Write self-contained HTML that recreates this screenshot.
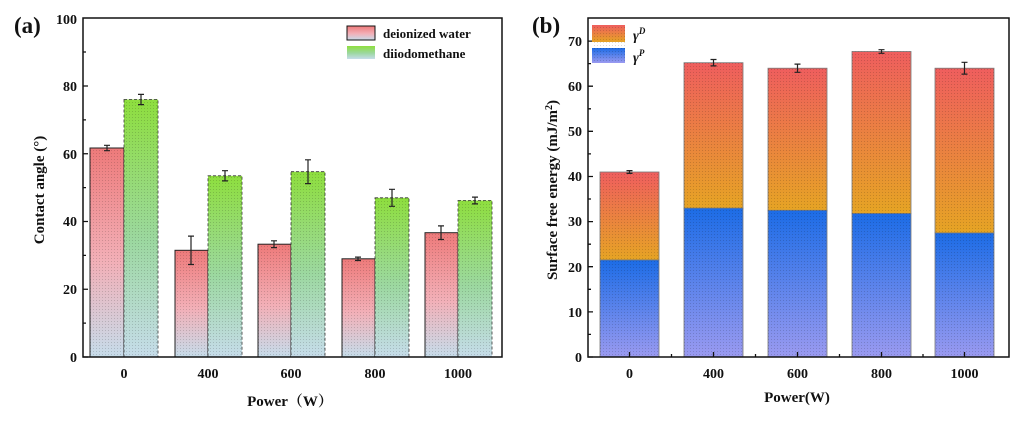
<!DOCTYPE html>
<html><head><meta charset="utf-8"><style>
html,body{margin:0;padding:0;background:#fff;}
svg text{font-family:"Liberation Serif",serif;font-weight:bold;fill:#111;}
</style></head><body>
<svg width="1032" height="416" viewBox="0 0 1032 416" xmlns="http://www.w3.org/2000/svg">
<defs>
<linearGradient id="gr" x1="0" y1="0" x2="0" y2="1"><stop offset="0" stop-color="#ee7a7a"/><stop offset="0.55" stop-color="#f2b0b8"/><stop offset="1" stop-color="#c6dcea"/></linearGradient>
<linearGradient id="gg" x1="0" y1="0" x2="0" y2="1"><stop offset="0" stop-color="#8ede3e"/><stop offset="0.55" stop-color="#9cd8a0"/><stop offset="1" stop-color="#c6dcea"/></linearGradient>
<linearGradient id="gd" x1="0" y1="0" x2="0" y2="1"><stop offset="0" stop-color="#ef5e5e"/><stop offset="1" stop-color="#e6a424"/></linearGradient>
<linearGradient id="gp" x1="0" y1="0" x2="0" y2="1"><stop offset="0" stop-color="#1c6ce6"/><stop offset="1" stop-color="#9a9af0"/></linearGradient>
<pattern id="dots" width="3" height="3" patternUnits="userSpaceOnUse"><rect x="0" y="0" width="1" height="1" fill="#000" opacity="0.15"/></pattern>
</defs>

<!-- Panel a -->
<text x="14" y="33" font-size="23">(a)</text>
<g stroke="#222" stroke-width="1">
<rect x="90" y="148" width="34" height="209" fill="url(#gr)"/>
<rect x="175" y="250.3" width="33" height="106.7" fill="url(#gr)"/>
<rect x="258" y="244.2" width="33" height="112.8" fill="url(#gr)"/>
<rect x="342" y="258.8" width="33" height="98.2" fill="url(#gr)"/>
<rect x="425" y="232.7" width="33" height="124.3" fill="url(#gr)"/>
</g>
<g stroke="#333" stroke-width="0.8" stroke-dasharray="3,2">
<rect x="124" y="99.5" width="34" height="257.5" fill="url(#gg)"/>
<rect x="208" y="175.8" width="34" height="181.2" fill="url(#gg)"/>
<rect x="291" y="171.7" width="34" height="185.3" fill="url(#gg)"/>
<rect x="375" y="197.8" width="34" height="159.2" fill="url(#gg)"/>
<rect x="458" y="200.5" width="34" height="156.5" fill="url(#gg)"/>
</g>
<g fill="url(#dots)">
<rect x="90" y="148" width="34" height="209"/>
<rect x="175" y="250.3" width="33" height="106.7"/>
<rect x="258" y="244.2" width="33" height="112.8"/>
<rect x="342" y="258.8" width="33" height="98.2"/>
<rect x="425" y="232.7" width="33" height="124.3"/>
<rect x="124" y="99.5" width="34" height="257.5"/>
<rect x="208" y="175.8" width="34" height="181.2"/>
<rect x="291" y="171.7" width="34" height="185.3"/>
<rect x="375" y="197.8" width="34" height="159.2"/>
<rect x="458" y="200.5" width="34" height="156.5"/>
</g>
<g stroke="#222" stroke-width="1.2" fill="none">
<path d="M107 145.3V150.7M104 145.3H110M104 150.7H110"/>
<path d="M191 236.1V264.5M188 236.1H194M188 264.5H194"/>
<path d="M274 240.8V247.6M271 240.8H277M271 247.6H277"/>
<path d="M358 257.1V260.5M355 257.1H361M355 260.5H361"/>
<path d="M441 225.9V239.5M438 225.9H444M438 239.5H444"/>
<path d="M141 94.4V104.6M138 94.4H144M138 104.6H144"/>
<path d="M225 170.7V180.9M222 170.7H228M222 180.9H228"/>
<path d="M308 159.8V183.6M305 159.8H311M305 183.6H311"/>
<path d="M392 189.3V206.3M389 189.3H395M389 206.3H395"/>
<path d="M475 197.1V203.9M472 197.1H478M472 203.9H478"/>
</g>
<rect x="83" y="18" width="419" height="339" fill="none" stroke="#111" stroke-width="1.5"/>
<g stroke="#111" stroke-width="1.3">
<path d="M83 357h5M83 289.25h5M83 221.5h5M83 153.75h5M83 86h5M83 323.1h3M83 255.4h3M83 187.6h3M83 119.9h3M83 52h3"/>
</g>
<g font-size="14" text-anchor="end">
<text x="77" y="362">0</text><text x="77" y="294">20</text><text x="77" y="226">40</text><text x="77" y="159">60</text><text x="77" y="91">80</text><text x="77" y="24">100</text>
</g>
<g font-size="14" text-anchor="middle">
<text x="124" y="378">0</text><text x="208" y="378">400</text><text x="291" y="378">600</text><text x="375" y="378">800</text><text x="458" y="378">1000</text>
</g>
<text x="290" y="406" font-size="15" text-anchor="middle" style="font-family:'Liberation Serif','Noto Serif CJK SC',serif">Power（W）</text>
<text transform="translate(44,190) rotate(-90)" font-size="15" text-anchor="middle">Contact angle (°)</text>
<rect x="347" y="26" width="28" height="14" fill="url(#gr)" stroke="#111" stroke-width="1"/>
<rect x="347" y="46" width="28" height="13" fill="url(#gg)"/>
<text x="383" y="38" font-size="13">deionized water</text>
<text x="383" y="58" font-size="13">diiodomethane</text>

<!-- Panel b -->
<text x="532" y="33" font-size="23">(b)</text>
<g stroke="#777" stroke-width="0.8">
<rect x="600" y="172" width="59" height="88" fill="url(#gd)"/>
<rect x="684" y="62.7" width="59" height="146.4" fill="url(#gd)"/>
<rect x="768" y="68.2" width="59" height="142.9" fill="url(#gd)"/>
<rect x="852" y="51.5" width="59" height="162" fill="url(#gd)"/>
<rect x="935" y="68.2" width="59" height="164.7" fill="url(#gd)"/>
<rect x="600" y="260" width="59" height="97" fill="url(#gp)"/>
<rect x="684" y="208.1" width="59" height="148.9" fill="url(#gp)"/>
<rect x="768" y="210.3" width="59" height="146.7" fill="url(#gp)"/>
<rect x="852" y="213.5" width="59" height="143.5" fill="url(#gp)"/>
<rect x="935" y="232.9" width="59" height="124.1" fill="url(#gp)"/>
</g>
<g fill="url(#dots)">
<rect x="600" y="172" width="59" height="185"/>
<rect x="684" y="62.7" width="59" height="294.3"/>
<rect x="768" y="68.2" width="59" height="288.8"/>
<rect x="852" y="51.5" width="59" height="305.5"/>
<rect x="935" y="68.2" width="59" height="288.8"/>
</g>
<g stroke="#222" stroke-width="1.2" fill="none">
<path d="M629.5 170.6V173.4M626.5 170.6H632.5M626.5 173.4H632.5"/>
<path d="M713.5 59.5V65.9M710.5 59.5H716.5M710.5 65.9H716.5"/>
<path d="M797.5 64.1V72.3M794.5 64.1H800.5M794.5 72.3H800.5"/>
<path d="M881.5 49.7V53.3M878.5 49.7H884.5M878.5 53.3H884.5"/>
<path d="M964.5 62.3V74.1M961.5 62.3H967.5M961.5 74.1H967.5"/>
</g>
<rect x="588" y="18" width="421" height="339" fill="none" stroke="#111" stroke-width="1.5"/>
<g stroke="#111" stroke-width="1.3">
<path d="M588 357h5M588 311.9h5M588 266.7h5M588 221.6h5M588 176.5h5M588 131.3h5M588 86.2h5M588 41.1h5M588 334.4h3M588 289.3h3M588 244.2h3M588 199h3M588 153.9h3M588 108.8h3M588 63.6h3"/>
<path d="M629.5 357v-5M713.5 357v-5M797.5 357v-5M881.5 357v-5M964.5 357v-5M671.5 357v-3M755.5 357v-3M839.5 357v-3M923 357v-3"/>
</g>
<g font-size="14" text-anchor="end">
<text x="582" y="362">0</text><text x="582" y="317">10</text><text x="582" y="272">20</text><text x="582" y="226">30</text><text x="582" y="181">40</text><text x="582" y="136">50</text><text x="582" y="91">60</text><text x="582" y="46">70</text>
</g>
<g font-size="14" text-anchor="middle">
<text x="629.5" y="378">0</text><text x="713.5" y="378">400</text><text x="797.5" y="378">600</text><text x="881.5" y="378">800</text><text x="964.5" y="378">1000</text>
</g>
<text x="797" y="402" font-size="15" text-anchor="middle">Power(W)</text>
<text transform="translate(557,190) rotate(-90)" font-size="15" text-anchor="middle">Surface free energy (mJ/m<tspan dy="-5" font-size="10">2</tspan><tspan dy="5">)</tspan></text>
<rect x="592" y="25" width="33" height="17" fill="url(#gd)"/>
<rect x="592" y="48" width="33" height="15" fill="url(#gp)"/>
<rect x="592" y="25" width="33" height="38" fill="url(#dots)"/>
<text x="633" y="40" font-size="14" font-style="italic" font-weight="normal">γ<tspan dy="-6" font-size="9">D</tspan></text>
<text x="633" y="62" font-size="14" font-style="italic" font-weight="normal">γ<tspan dy="-6" font-size="9">P</tspan></text>
</svg>
</body></html>
